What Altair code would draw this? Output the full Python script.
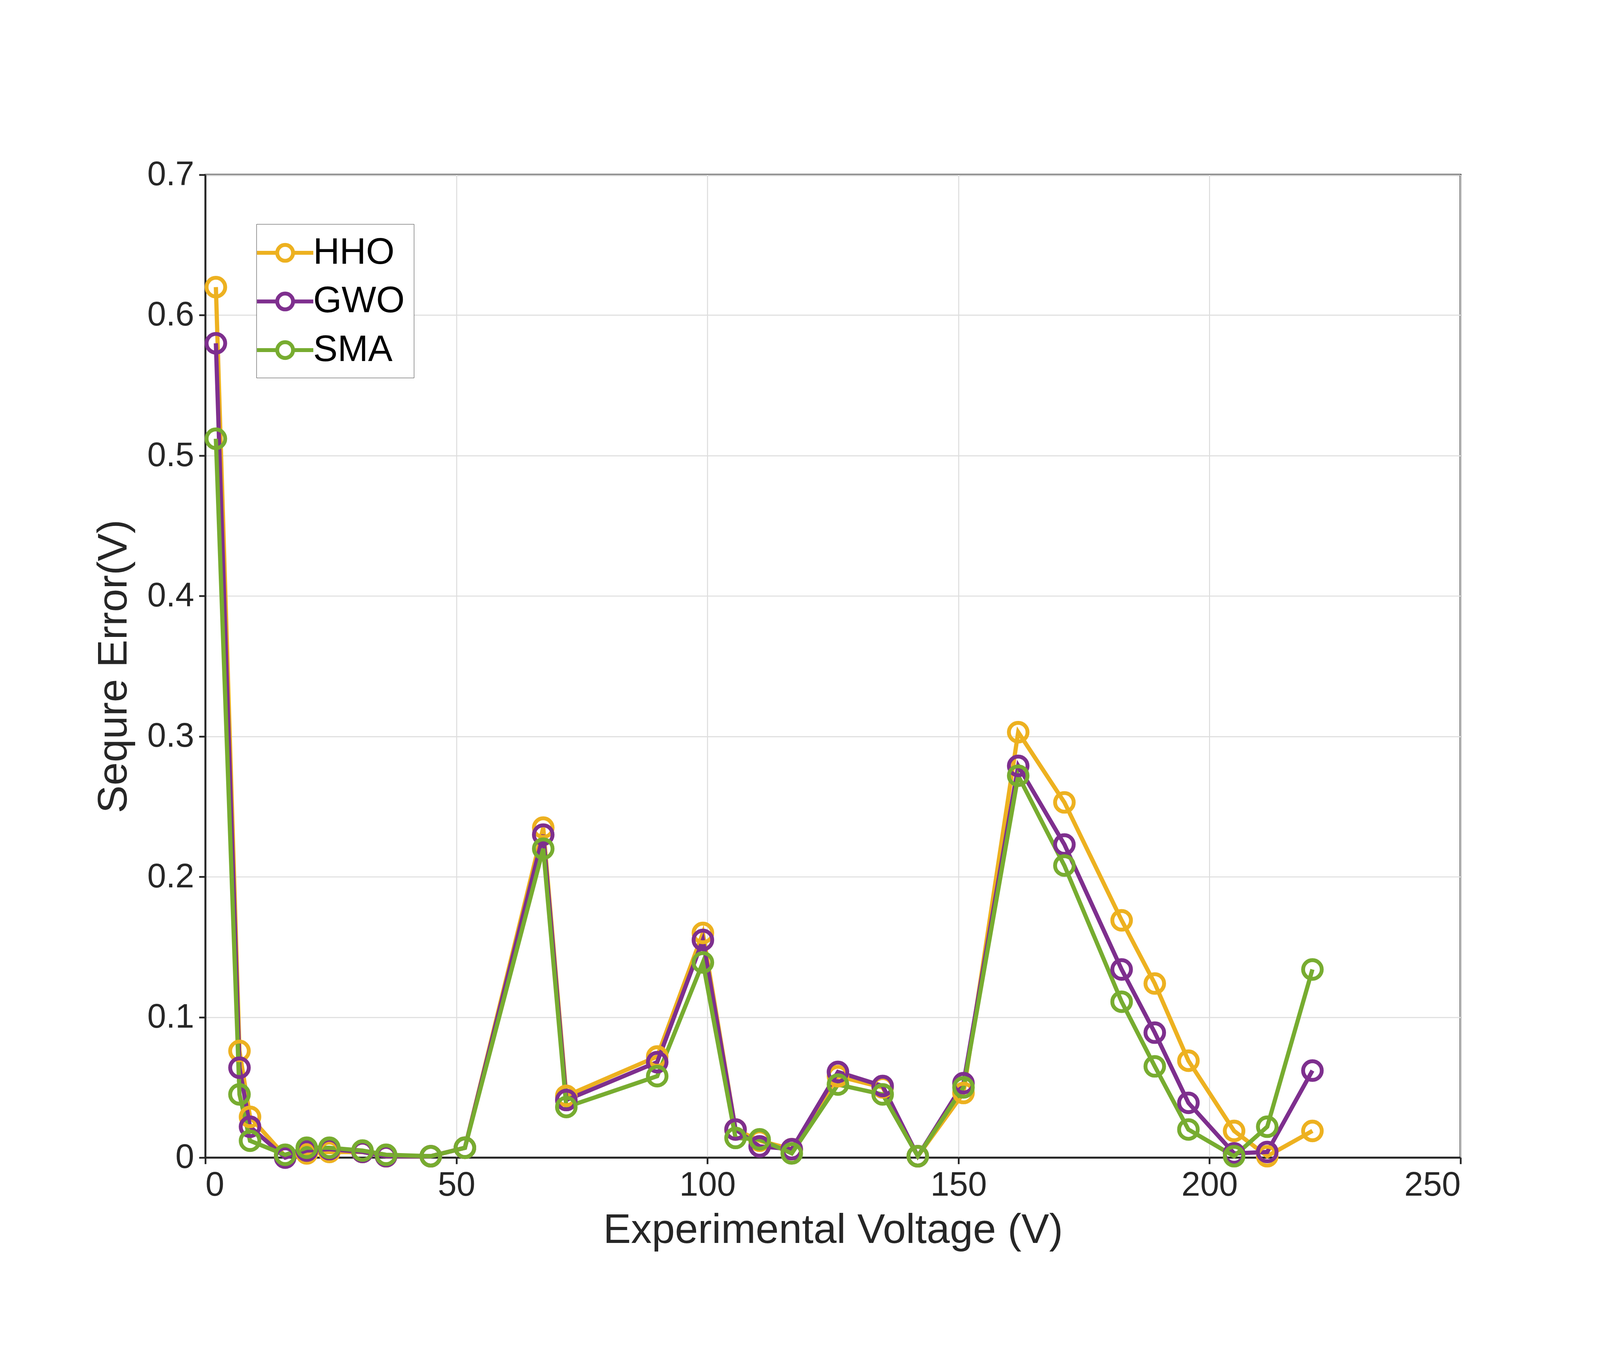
import altair as alt
import pandas as pd

voltage = [2.1, 6.8, 8.9, 15.9, 20.2, 24.7, 31.3, 36.0, 44.9, 51.7, 67.3, 71.9, 90.0,
           99.1, 105.6, 110.4, 116.8, 126.0, 134.9, 141.9, 151.0, 161.9, 171.1, 182.5,
           189.1, 195.8, 204.9, 211.5, 220.5]
hho = [0.62, 0.076, 0.029, 0.001, 0.003, 0.004, 0.004, 0.001, 0.001, 0.007, 0.235, 0.044,
       0.072, 0.16, 0.02, 0.012, 0.006, 0.058, 0.05, 0.001, 0.046, 0.303, 0.253, 0.169,
       0.124, 0.069, 0.019, 0.001, 0.019]
gwo = [0.58, 0.064, 0.022, 0.0, 0.005, 0.006, 0.004, 0.001, 0.001, 0.007, 0.23, 0.041,
       0.068, 0.155, 0.02, 0.008, 0.006, 0.061, 0.051, 0.001, 0.053, 0.279, 0.223, 0.134,
       0.089, 0.039, 0.003, 0.004, 0.062]
sma = [0.512, 0.045, 0.012, 0.002, 0.007, 0.007, 0.005, 0.002, 0.001, 0.007, 0.22, 0.036,
       0.058, 0.139, 0.014, 0.013, 0.003, 0.052, 0.045, 0.001, 0.05, 0.272, 0.208, 0.111,
       0.065, 0.02, 0.001, 0.022, 0.134]

SERIES = ["HHO", "GWO", "SMA"]
COLORS = ["#EDB120", "#7E2F8E", "#77AC30"]
FONT = "Liberation Sans"
INK = "#262626"

frames = []
for name, vals in zip(SERIES, [hho, gwo, sma]):
    frames.append(pd.DataFrame({"voltage": voltage, "error": vals, "method": name,
                                "order": range(len(voltage))}))
data = pd.concat(frames, ignore_index=True)

legend_symbol = "M-1.6,0H-0.45M0.45,0H1.6M0.45,0A0.45,0.45 0 1,1 -0.45,0A0.45,0.45 0 1,1 0.45,0"

axis_style = dict(gridColor="#dedede", gridWidth=3, labelFontSize=96, titleFontSize=118,
                  labelFont=FONT, titleFont=FONT, titleFontWeight="normal",
                  labelColor=INK, titleColor=INK, domainColor=INK, domainWidth=5,
                  tickColor=INK, tickWidth=5, tickSize=18, labelPadding=14)

x_enc = alt.X("voltage:Q", title="Experimental Voltage (V)",
              scale=alt.Scale(domain=[0, 250], nice=False),
              axis=alt.Axis(values=[0, 50, 100, 150, 200, 250], titlePadding=22, **axis_style))
y_enc = alt.Y("error:Q", title="Sequre Error(V)",
              scale=alt.Scale(domain=[0, 0.7], nice=False),
              axis=alt.Axis(values=[0, 0.1, 0.2, 0.3, 0.4, 0.5, 0.6, 0.7], format="~g",
                            titlePadding=34, **axis_style))
color_enc = alt.Color("method:N", scale=alt.Scale(domain=SERIES, range=COLORS),
                      legend=alt.Legend(title=None, orient="none", legendX=145, legendY=140,
                                        symbolType=legend_symbol, symbolSize=10000,
                                        symbolStrokeWidth=11, symbolFillColor="white",
                                        labelFontSize=104, labelFont=FONT, labelColor="#000000",
                                        labelLimit=1000, rowPadding=30, padding=26,
                                        strokeColor=INK, fillColor="white", labelOffset=24))

base = alt.Chart(data).encode(x=x_enc, y=y_enc, color=color_enc, order="order:Q")
lines = base.mark_line(strokeWidth=12)
points = base.mark_point(shape="circle", size=2800, strokeWidth=11, filled=False, opacity=1)

chart = (lines + points).properties(
    width=4524, height=3439,
    autosize=alt.AutoSizeParams(type="fit", contains="padding"),
    padding={"left": 255, "top": 252, "right": 384, "bottom": 84},
    background="white",
).configure_view(stroke=INK, strokeWidth=5)

chart.save("out.html", embed_options={"renderer": "svg", "actions": False})
